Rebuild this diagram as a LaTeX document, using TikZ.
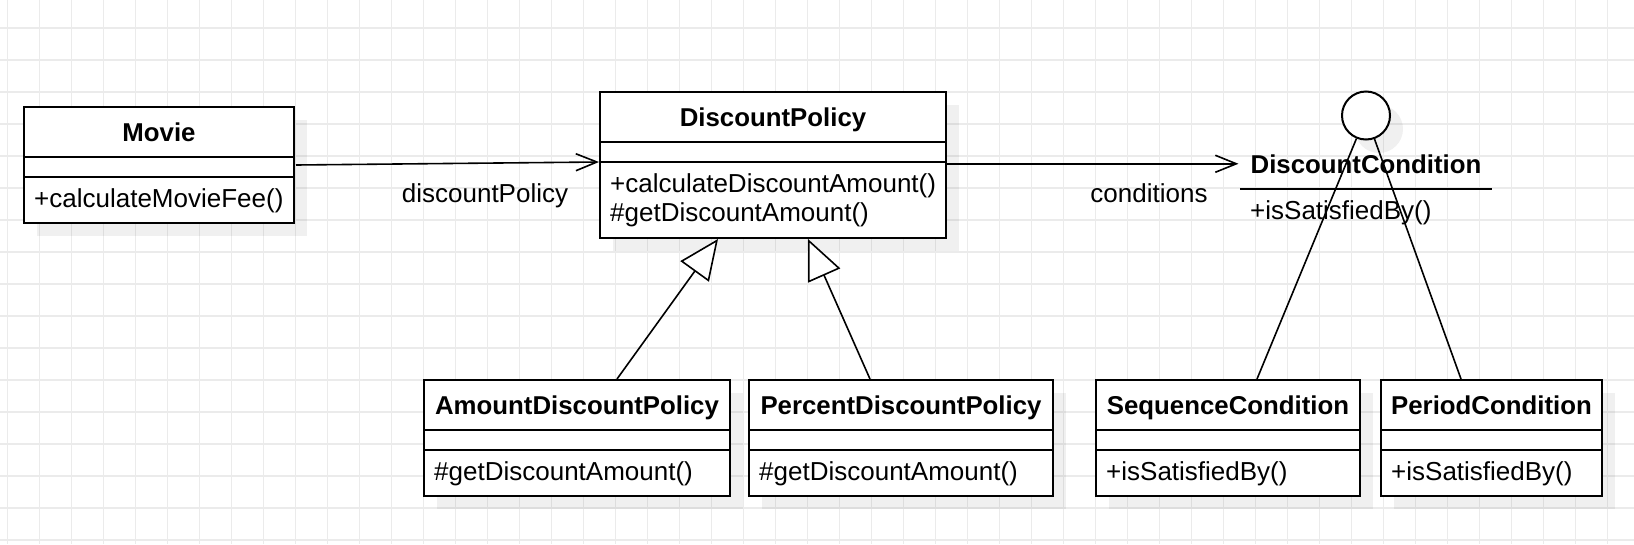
\documentclass[tikz,border=0pt]{standalone}
\usepackage{fontspec}
\setmainfont{Liberation Sans}
\usetikzlibrary{arrows.meta,calc}

\newcommand{\umlclass}[7]{%
  \fill[boxshadow] (#2+13,#3+13) rectangle ++(#4,#5);
  \node[classbox,minimum width=#4pt,minimum height=#5pt] (#1) at (#2+#4/2,#3+#5/2) {};
  \node[titletext] (#1-t) at (#2+#4/2,#3+34) {#6};
  \draw[classline] (#2,#3+50) -- ++(#4,0);
  \draw[classline] (#2,#3+70) -- ++(#4,0);
  \node[methodtext] (#1-m) at (#2+10,#3+100) {#7};
}

\begin{document}
\begin{tikzpicture}
  [x=1pt,y=-1pt,
   every node/.style={inner sep=0pt,font=\fontsize{26}{30}\selectfont},
   gridline/.style={draw=black!8,line width=1.2pt},
   boxshadow/.style={fill=black,fill opacity=0.06},
   classbox/.style={draw,line width=2pt,fill=white},
   classline/.style={line width=2pt},
   titletext/.style={anchor=base,font=\fontsize{25.8}{30}\selectfont\bfseries},
   methodtext/.style={anchor=base west},
   iface/.style={circle,draw,line width=2pt,fill=white,minimum size=48pt},
   link/.style={line width=1.6pt},
   assoc/.style={line width=1.6pt,-{Straight Barb[length=21pt,width=17pt]}},
   inherit/.style={line width=1.6pt,-{Triangle[length=40pt,width=35pt,fill=white]}}]
  \useasboundingbox (0,0) rectangle (1634,544);
  \fill[white] (0,0) rectangle (1634,544);

  % grid
  \foreach \k in {0,...,50}
    \draw[gridline] (7.5+32*\k,0) -- (7.5+32*\k,544);
  \foreach \k in {0,...,16}
    \draw[gridline] (0,28+32*\k) -- (1634,28+32*\k);

  % classes
  \umlclass{movie}{24}{107}{270}{116}{Movie}{+calculateMovieFee()}
  \umlclass{policy}{600}{92}{346}{146}{DiscountPolicy}{+calculateDiscountAmount()}
  \node[methodtext] (policy-m2) at (610,221) {\#getDiscountAmount()};
  \umlclass{amount}{424}{380}{306}{116}{AmountDiscountPolicy}{\#getDiscountAmount()}
  \umlclass{percent}{749}{380}{304}{116}{PercentDiscountPolicy}{\#getDiscountAmount()}
  \umlclass{sequence}{1096}{380}{264}{116}{SequenceCondition}{+isSatisfiedBy()}
  \umlclass{period}{1381}{380}{221}{116}{PeriodCondition}{+isSatisfiedBy()}

  % interface
  \fill[boxshadow] (1379,129) circle (24pt);
  \node[iface] (iface) at (1366,115.5) {};
  \node[titletext] (cond) at (1366,173) {DiscountCondition};
  \draw[classline] ($(cond.base)+(-126,16)$) -- ($(cond.base)+(126,16)$);
  \node[methodtext] (cond-m) at ($(cond.base)+(-116,46)$) {+isSatisfiedBy()};

  % associations
  \draw[assoc] ($(movie.north east)+(1,59)$) -- ($(policy.north west)+(0,71)$);
  \node[anchor=base] (dplabel) at (485,202) {discountPolicy};
  \draw[assoc] (policy.east |- cond.west) -- ($(cond.west)+(-12,0)$);
  \node[anchor=base] (condlabel) at (1149,202) {conditions};

  % generalization
  \draw[inherit] ($(amount.north west)+(194,0)$) -- ($(policy.south west)+(119,0)$);
  \draw[inherit] ($(percent.north west)+(122,0)$) -- ($(policy.south west)+(209,0)$);

  % realization
  \draw[link] (iface) -- ($(sequence.north west)+(162,0)$);
  \draw[link] (iface) -- ($(period.north west)+(81,0)$);
\end{tikzpicture}
\end{document}
